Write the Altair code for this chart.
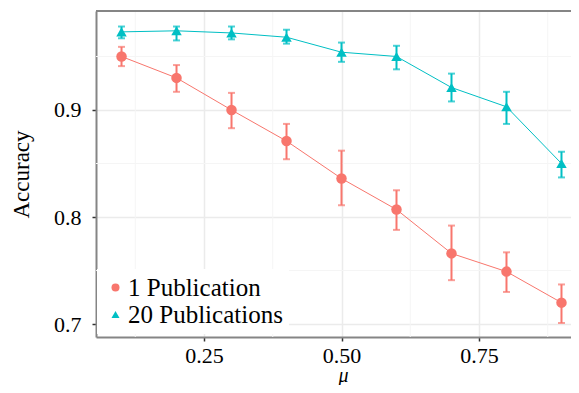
import altair as alt
import pandas as pd

mu = [0.1, 0.2, 0.3, 0.4, 0.5, 0.6, 0.7, 0.8, 0.9]
series_names = ["1 Publication", "20 Publications"]
acc_1 = [0.950, 0.930, 0.900, 0.871, 0.836, 0.807, 0.766, 0.749, 0.720]
lo_1 = [0.941, 0.917, 0.883, 0.854, 0.811, 0.788, 0.741, 0.730, 0.701]
hi_1 = [0.959, 0.942, 0.916, 0.887, 0.862, 0.825, 0.792, 0.767, 0.737]
acc_20 = [0.973, 0.974, 0.972, 0.968, 0.954, 0.950, 0.921, 0.903, 0.850]
lo_20 = [0.967, 0.965, 0.966, 0.962, 0.945, 0.938, 0.908, 0.887, 0.837]
hi_20 = [0.978, 0.978, 0.978, 0.975, 0.963, 0.960, 0.934, 0.917, 0.861]

x_ticks = [0.25, 0.50, 0.75]
y_ticks = [0.7, 0.8, 0.9]
x_minor = [0.125, 0.375, 0.625, 0.875]
y_minor = [0.75, 0.85, 0.95]
x_domain = [0.0536, 0.9173]
y_domain = [0.6879, 0.9925]
colors = ["#F8766D", "#00BFC4"]
shapes = ["circle", "triangle-up"]

rows = []
for name, acc, lo, hi in [(series_names[0], acc_1, lo_1, hi_1),
                          (series_names[1], acc_20, lo_20, hi_20)]:
    for m, a, l, h in zip(mu, acc, lo, hi):
        rows.append({"mu": m, "acc": a, "lo": l, "hi": h, "series": name})
df = pd.DataFrame(rows)

font = "Liberation Serif"

xs = alt.Scale(domain=x_domain, nice=False, zero=False)
ys = alt.Scale(domain=y_domain, nice=False, zero=False)
cs = alt.Scale(domain=series_names, range=colors)
ss = alt.Scale(domain=series_names, range=shapes)
leg = alt.Legend(title=None, orient="none", legendX=1, legendY=258)

x_axis = alt.Axis(values=x_ticks, format=".2f", title="μ", grid=True,
                  gridColor="#ebebeb", gridWidth=1.5,
                  domainColor="#858585", domainWidth=2,
                  tickColor="#333333", tickSize=4, tickWidth=1.5,
                  labelFont=font, labelFontSize=22, labelColor="black",
                  labelPadding=4,
                  titleFont=font, titleFontSize=20, titleFontStyle="italic",
                  titleFontWeight="normal", titleColor="black",
                  titleX=247, titleY=44, titleBaseline="alphabetic")
y_axis = alt.Axis(values=y_ticks, format=".1f", title="Accuracy", grid=True,
                  gridColor="#ebebeb", gridWidth=1.5,
                  domainColor="#858585", domainWidth=2,
                  tickColor="#333333", tickSize=4, tickWidth=1.5,
                  labelFont=font, labelFontSize=22, labelColor="black",
                  labelPadding=11,
                  titleFont=font, titleFontSize=23, titleFontWeight="normal",
                  titleColor="black", titleAngle=270, titleX=-75, titleY=163,
                  titleBaseline="middle", titleAlign="center")

base = alt.Chart(df)

minor_x = alt.Chart(pd.DataFrame({"mx": x_minor})).mark_rule(
    color="#f5f5f5", strokeWidth=1).encode(x=alt.X("mx:Q", scale=xs, axis=x_axis))
minor_y = alt.Chart(pd.DataFrame({"my": y_minor})).mark_rule(
    color="#f5f5f5", strokeWidth=1).encode(y=alt.Y("my:Q", scale=ys, axis=y_axis))

lines = base.mark_line(strokeWidth=1).encode(
    x=alt.X("mu:Q", scale=xs, axis=x_axis),
    y=alt.Y("acc:Q", scale=ys, axis=y_axis),
    color=alt.Color("series:N", scale=cs, legend=leg),
)
bars = base.mark_rule(strokeWidth=2).encode(
    x=alt.X("mu:Q", scale=xs, axis=x_axis),
    y=alt.Y("lo:Q", scale=ys, axis=y_axis),
    y2="hi:Q",
    color=alt.Color("series:N", scale=cs, legend=leg),
)
caps_lo = base.mark_tick(orient="horizontal", size=7, thickness=2).encode(
    x=alt.X("mu:Q", scale=xs, axis=x_axis),
    y=alt.Y("lo:Q", scale=ys, axis=y_axis),
    color=alt.Color("series:N", scale=cs, legend=leg),
)
caps_hi = base.mark_tick(orient="horizontal", size=7, thickness=2).encode(
    x=alt.X("mu:Q", scale=xs, axis=x_axis),
    y=alt.Y("hi:Q", scale=ys, axis=y_axis),
    color=alt.Color("series:N", scale=cs, legend=leg),
)
points = base.mark_point(filled=True, size=110, opacity=1).encode(
    x=alt.X("mu:Q", scale=xs, axis=x_axis),
    y=alt.Y("acc:Q", scale=ys, axis=y_axis),
    color=alt.Color("series:N", scale=cs, legend=leg),
    shape=alt.Shape("series:N", scale=ss, legend=leg),
)
top_border = alt.Chart(df).mark_rule(color="#858585", strokeWidth=2).encode(
    y=alt.value(0))

chart = alt.layer(minor_x, minor_y, lines, bars, caps_lo, caps_hi, points,
                  top_border).properties(
    width=475, height=326,
    autosize=alt.AutoSizeParams(type="none"),
    padding={"left": 88, "top": 3, "right": 0, "bottom": 48},
    background="white",
).configure_view(strokeWidth=0).configure_legend(
    padding=6, fillColor="white",
    symbolSize=64, labelFont=font, labelFontSize=25, labelColor="black",
    rowPadding=1, labelOffset=0, symbolStrokeWidth=0, symbolOpacity=1,
    labelLimit=400,
)

chart.save("out.html", embed_options={"renderer": "svg", "actions": False})
